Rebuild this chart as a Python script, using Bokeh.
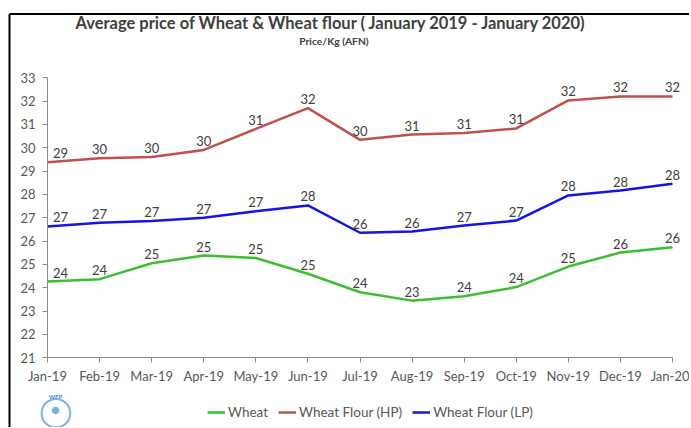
from bokeh.plotting import figure
from bokeh.models import (ColumnDataSource, Range1d, FixedTicker, Label, Legend, LegendItem)
from bokeh.core.properties import value
from bokeh.embed import file_html
from bokeh.resources import INLINE

months = ["Jan-19", "Feb-19", "Mar-19", "Apr-19", "May-19", "Jun-19", "Jul-19",
          "Aug-19", "Sep-19", "Oct-19", "Nov-19", "Dec-19", "Jan-20"]
wheat = [24.27, 24.37, 25.05, 25.38, 25.28, 24.6, 23.81, 23.45, 23.64, 24.03, 24.91, 25.51, 25.74]
flour_hp = [29.38, 29.55, 29.61, 29.91, 30.81, 31.70, 30.34, 30.57, 30.63, 30.83, 32.03, 32.20, 32.20]
flour_lp = [26.63, 26.79, 26.86, 27.00, 27.28, 27.53, 26.36, 26.41, 26.67, 26.88, 27.96, 28.17, 28.46]
y_ticks = list(range(21, 34))

title_text = "Average price of Wheat & Wheat flour ( January 2019 - January 2020)"
subtitle_text = "Price/Kg (AFN)"

FONT = "Lato"
W, H = 686, 424
# frame covers the whole canvas; axes are pinned inside it
px_per_x = 625 / 12.0
px_per_y = 280 / 12.0
x0_px, y33_px = 44, 74.3
x_lo = -x0_px / px_per_x
x_hi = 12 + (W - x0_px - 625) / px_per_x
y_hi = 33 + y33_px / px_per_y
y_lo = 21 - (H - y33_px - 280) / px_per_y

def sx(px):  # canvas pixel -> data x
    return x_lo + px / px_per_x

def sy(py):  # canvas pixel from top -> data y
    return y_hi - py / px_per_y

p = figure(width=W, height=H, output_backend="svg", toolbar_location=None,
           x_range=Range1d(x_lo, x_hi), y_range=Range1d(y_lo, y_hi),
           min_border_left=0, min_border_right=0, min_border_top=0, min_border_bottom=0)
p.styles = {"position": "relative", "top": "3px", "left": "3px"}
p.outline_line_color = None
p.xgrid.grid_line_color = None
p.ygrid.grid_line_color = None

# frame border of the chart box (top and left edges)
p.segment(x0=[sx(6), sx(6)], y0=[sy(10.5), sy(10.5)], x1=[sx(6), x_hi], y1=[y_lo, sy(10.5)],
          line_color="black", line_width=2)

xs = list(range(len(months)))
p.xaxis.ticker = FixedTicker(ticks=xs)
p.xaxis.major_label_overrides = {i: m for i, m in enumerate(months)}
p.xaxis.fixed_location = 21
p.xaxis.bounds = (0, 12)
p.yaxis.ticker = FixedTicker(ticks=y_ticks)
p.yaxis.fixed_location = 0
p.yaxis.bounds = (21, 33)
for ax in (p.xaxis[0], p.yaxis[0]):
    ax.axis_line_color = "#8c8c8c"
    ax.major_tick_line_color = "#8c8c8c"
    ax.minor_tick_line_color = None
    ax.major_tick_in = 0
    ax.major_tick_out = 5
    ax.major_label_text_font = FONT
    ax.major_label_text_color = "#595959"
p.xaxis.major_label_standoff = 5
p.yaxis.major_label_standoff = 7
p.xaxis.major_label_text_font_size = "13px"
p.yaxis.major_label_text_font_size = "13px"

series = [("Wheat", wheat, "#3DBE32"),
          ("Wheat Flour (HP)", flour_hp, "#C0504D"),
          ("Wheat Flour (LP)", flour_lp, "#1414E6")]
items = []
for name, vals, col in series:
    src = ColumnDataSource(dict(x=xs, y=vals,
                                lab=[str(int(round(v))) for v in vals],
                                xo=[13 if i == 0 else 0 for i in xs]))
    r = p.line("x", "y", source=src, line_color=col, line_width=2.5)
    p.text("x", "y", text="lab", source=src, x_offset="xo", y_offset=-4,
           text_align="center", text_baseline="bottom", text_font=value(FONT),
           text_font_size="13px", text_color="#404040")
    items.append(LegendItem(label=name, renderers=[r]))

legend = Legend(items=items, orientation="horizontal", location=(204, 5),
                label_text_font=FONT, label_text_font_size="13.5px", label_text_color="#595959",
                glyph_width=18, label_standoff=3, spacing=10, padding=2,
                border_line_color=None, background_fill_alpha=0)
p.add_layout(legend, "center")

p.add_layout(Label(x=5.45, y=sy(19.5), text=title_text, text_align="center",
                   text_baseline="alphabetic", text_font=FONT, text_font_style="bold",
                   text_font_size="16.5px", text_color="#404040"))
p.add_layout(Label(x=5.5, y=sy(37), text=subtitle_text, text_align="center",
                   text_baseline="middle", text_font=FONT, text_font_style="bold",
                   text_font_size="10.3px", text_color="#404040"))

# small WFP emblem at the bottom left
emb_x = 0.154
p.add_layout(Label(x=emb_x, y=sy(H - 19), text="\u25ef", text_align="center",
                   text_baseline="middle", text_font=FONT, text_font_size="30px",
                   text_color="#7FB2E0"))
p.add_layout(Label(x=emb_x, y=sy(H - 19), text="\u25cf", text_align="center",
                   text_baseline="middle", text_font=FONT, text_font_size="15px",
                   text_color="#7FAEE0"))
p.add_layout(Label(x=emb_x, y=sy(H - 31), text="WFP", text_align="center",
                   text_baseline="middle", text_font=FONT, text_font_style="bold",
                   text_font_size="6px", text_color="#4A86C8"))

open("out.html", "w").write(file_html(p, INLINE))
